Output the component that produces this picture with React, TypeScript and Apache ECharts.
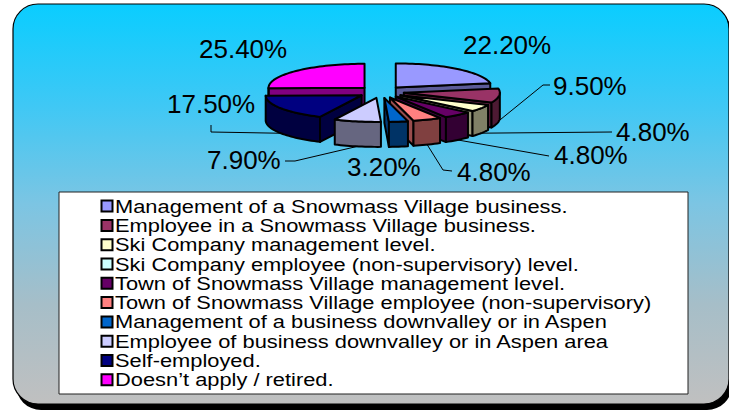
import React, { useEffect, useRef } from "react";
import * as echarts from "echarts";

// ---------- data ----------
const categories = [
  "Management of a Snowmass Village business.",
  "Employee in a Snowmass Village business.",
  "Ski Company management level.",
  "Ski Company employee (non-supervisory) level.",
  "Town of Snowmass Village management level.",
  "Town of Snowmass Village employee (non-supervisory)",
  "Management of a business downvalley or in Aspen",
  "Employee of business downvalley or in Aspen area",
  "Self-employed.",
  "Doesn\u2019t apply / retired.",
];
const shares = [22.2, 9.5, 4.8, 0, 4.8, 4.8, 3.2, 7.9, 17.5, 25.4];
const colors = ["#9999FF", "#993366", "#FFFFCC", "#CCFFFF", "#660066", "#FF8080", "#0066CC", "#CCCCFF", "#000080", "#FF00FF"];

// ---------- layout (style only) ----------
const GEOM = { cx: 381, cy: 92, rx: 96, ry: 24, depth: 25, ex: 23, ey: 6 };
type LabelLayout = { x: number; y: number; leader: number[][] | null } | null;
const labelLayout: LabelLayout[] = [
  { x: 463, y: 45, leader: null },
  { x: 553, y: 86, leader: [[543, 85], [550, 85]] },
  { x: 616, y: 132, leader: [[612, 132]] },
  null,
  { x: 554, y: 155, leader: [[549, 156]] },
  { x: 457, y: 172, leader: [[443, 170], [452, 171]] },
  { x: 347, y: 167, leader: null },
  { x: 207, y: 160, leader: [[295, 161], [285, 161]] },
  { x: 167, y: 104, leader: [[211, 132], [211, 125]] },
  { x: 199, y: 49, leader: null },
];
const LEGEND = { markerX: 101.5, textX: 115, firstY: 206.4, pitch: 19.3, marker: 11, fontSize: 17.7, stretch: 1.235 };
const FONT = '"Liberation Sans", Arial, Helvetica, sans-serif';

// ---------- derived angles ----------
const total = shares.reduce((s, v) => s + v, 0);
const startDeg: number[] = [];
const endDeg: number[] = [];
let acc = 0;
shares.forEach((v) => {
  startDeg.push((acc / total) * 360);
  acc += v;
  endDeg.push((acc / total) * 360);
});
const rad = (d: number) => (d * Math.PI) / 180;
const rank: number[] = [];
startDeg
  .map((s, i) => ({ i, k: -Math.cos(rad((s + endDeg[i]) / 2)) }))
  .sort((a, b) => a.k - b.k)
  .forEach((o, r) => (rank[o.i] = r));

function shade(hex: string, f: number) {
  const n = parseInt(hex.slice(1), 16);
  const r = (n >> 16) & 255, g = (n >> 8) & 255, b = n & 255;
  return `rgb(${Math.round(r * f)},${Math.round(g * f)},${Math.round(b * f)})`;
}

const makeRender = (i: number) => (_params: any, api: any) => {
  const v = api.value(0) as number;
  const a1 = api.value(1) as number;
  const a2 = api.value(2) as number;
  if (!(v > 0)) return { type: "group", children: [] };
  const { cx, cy, rx, ry, depth, ex, ey } = GEOM;
  const m = (a1 + a2) / 2;
  const tx = cx + ex * Math.sin(rad(m));
  const ty = cy - ey * Math.cos(rad(m));
  const pt = (d: number, dz = 0) => [tx + rx * Math.sin(rad(d)), ty - ry * Math.cos(rad(d)) + dz];
  const arc = (from: number, to: number, dz: number) => {
    const n = Math.max(2, Math.ceil((to - from) / 2) + 1);
    const out: number[][] = [];
    for (let k = 0; k < n; k++) out.push(pt(from + ((to - from) * k) / (n - 1), dz));
    return out;
  };
  const base = colors[i];
  const dark = shade(base, 0.5);
  const line = { stroke: "#000", lineWidth: 2, lineJoin: "round" };
  const z0 = rank[i] * 10;
  const tip = [tx, ty];
  const tipD = [tx, ty + depth];
  const children: any[] = [];
  if (Math.sin(rad(a1)) < -1e-6)
    children.push({ type: "polygon", z2: z0 + 1, shape: { points: [tip, pt(a1), pt(a1, depth), tipD] }, style: { fill: dark, ...line } });
  if (Math.sin(rad(a2)) > 1e-6)
    children.push({ type: "polygon", z2: z0 + 1, shape: { points: [tip, pt(a2), pt(a2, depth), tipD] }, style: { fill: shade(base, 0.6), ...line } });
  const lo = Math.max(a1, 90), hi = Math.min(a2, 270);
  if (hi > lo)
    children.push({
      type: "polygon",
      z2: z0 + 2,
      shape: { points: [...arc(lo, hi, 0), ...arc(lo, hi, depth).reverse()] },
      style: { fill: dark, ...line },
    });
  children.push({ type: "polygon", z2: z0 + 3, shape: { points: [tip, ...arc(a1, a2, 0)] }, style: { fill: base, ...line } });

  const L = labelLayout[i];
  if (L) {
    if (L.leader)
      children.push({
        type: "polyline",
        z2: 990,
        shape: { points: [pt(m, depth), ...L.leader] },
        style: { stroke: "#000", lineWidth: 1, fill: null },
      });
    children.push({
      type: "text",
      z2: 1000,
      style: {
        text: `${v.toFixed(2)}%`,
        x: L.x,
        y: L.y,
        fill: "#000",
        font: `26px ${FONT}`,
        align: "left",
        verticalAlign: "middle",
      },
    });
  }
  return { type: "group", children };
};

function legendGraphics() {
  const out: any[] = [];
  categories.forEach((name, i) => {
    const yc = LEGEND.firstY + i * LEGEND.pitch;
    out.push({
      type: "rect",
      z: 5,
      shape: { x: LEGEND.markerX, y: yc - LEGEND.marker / 2 - 0.3, width: LEGEND.marker, height: LEGEND.marker },
      style: { fill: colors[i], stroke: "#000", lineWidth: 2 },
    });
    out.push({
      type: "text",
      z: 5,
      x: LEGEND.textX,
      y: yc,
      scaleX: LEGEND.stretch,
      style: { text: name, x: 0, y: 0, fill: "#000", font: `${LEGEND.fontSize}px ${FONT}`, align: "left", verticalAlign: "middle" },
    });
  });
  return out;
}

export default function App() {
  const ref = useRef<HTMLDivElement>(null);
  useEffect(() => {
    if (!ref.current) return;
    const chart = echarts.init(ref.current, undefined, { renderer: "svg" });
    chart.setOption({
      animation: false,
      backgroundColor: "#fff",
      graphic: [
        { type: "rect", z: -10, shape: { x: 16, y: 9, width: 716, height: 401, r: 25 }, style: { fill: "#000" } },
        {
          type: "rect",
          z: -9,
          shape: { x: 13, y: 4, width: 716, height: 400, r: 25 },
          style: {
            fill: new echarts.graphic.LinearGradient(0, 0, 0, 1, [
              { offset: 0, color: "#0ACDFF" },
              { offset: 0.25, color: "#3EC8F5" },
              { offset: 0.5, color: "#7CC5E3" },
              { offset: 0.75, color: "#A6BEC8" },
              { offset: 1, color: "#C0C0C0" },
            ]),
            stroke: "#000",
            lineWidth: 1.2,
          },
        },
        { type: "rect", z: -8, shape: { x: 59, y: 192, width: 629, height: 202 }, style: { fill: "#fff", stroke: "#222", lineWidth: 1 } },
        ...legendGraphics(),
      ],
      series: categories.map((name, i) => ({
        type: "custom",
        name,
        coordinateSystem: "none",
        silent: true,
        itemStyle: { color: colors[i] },
        renderItem: makeRender(i),
        data: [[shares[i], startDeg[i], endDeg[i]]],
      })),
    });
    return () => chart.dispose();
  }, []);
  return <div ref={ref} style={{ position: "fixed", left: 0, top: 0, width: 729, height: 410 }} />;
}
